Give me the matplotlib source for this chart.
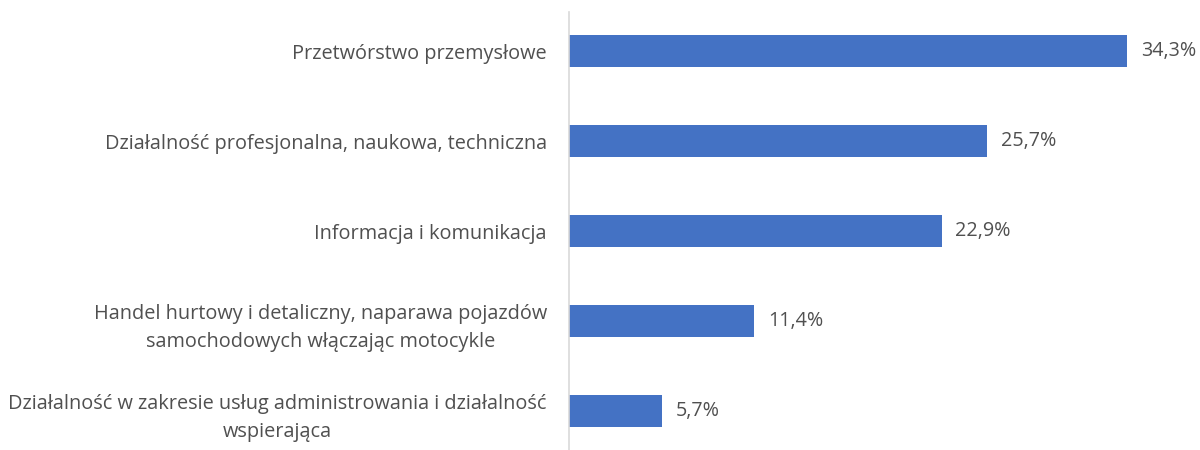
import matplotlib.pyplot as plt

categories = [
    "Przetwórstwo przemysłowe",
    "Działalność profesjonalna, naukowa, techniczna",
    "Informacja i komunikacja",
    "Handel hurtowy i detaliczny, naparawa pojazdów\nsamochodowych włączając motocykle",
    "Działalność w zakresie usług administrowania i działalność\nwspierająca",
]
values = [34.3, 25.7, 22.9, 11.4, 5.7]
value_labels = ["34,3%", "25,7%", "22,9%", "11,4%", "5,7%"]

plt.rcParams['font.family'] = ['Open Sans', 'DejaVu Sans']
text_color = '#505050'

fig = plt.figure(figsize=(12, 4.5), dpi=100)
ax = fig.add_axes([569 / 1200, 0, 631 / 1200, 1])

y = range(len(categories))
ax.barh(y, values, height=0.36, color='#4472c4')

# value labels just right of each bar end
for i, (v, lab) in enumerate(zip(values, value_labels)):
    ax.annotate(lab, (v, i), textcoords="offset points", xytext=(10, 0),
                va='center', ha='left', fontsize=14.2, color=text_color)

ax.set_xlim(0, 631 / 16.27)
ax.set_ylim(4.433, -0.567)
ax.set_yticks(list(y))
ax.set_yticklabels(categories, fontsize=14.3, color=text_color,
                   multialignment='center', linespacing=1.55)
ax.tick_params(axis='y', length=0, pad=16)
ax.set_xticks([])

for side in ['top', 'right', 'bottom']:
    ax.spines[side].set_visible(False)
ax.spines['left'].set_color('#d9d9d9')
ax.spines['left'].set_linewidth(1.2)
ax.spines['left'].set_bounds(-0.433, 4.433)

fig.savefig('out.png', dpi=100)
